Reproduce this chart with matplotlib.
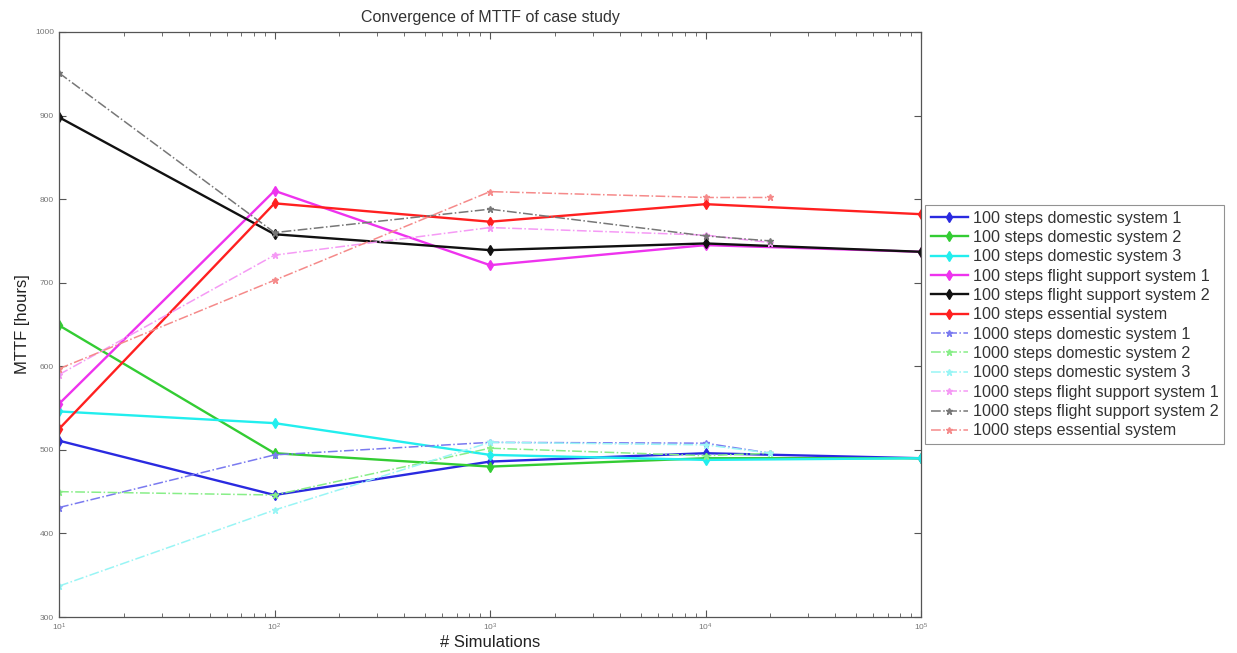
import matplotlib
matplotlib.use("Agg")
import matplotlib.pyplot as plt
from matplotlib.ticker import LogLocator, LogFormatterMathtext, NullFormatter

plt.rcParams['font.family'] = ['Liberation Sans', 'DejaVu Sans']

# Data
x100 = [10, 100, 1000, 10000, 100000]
x1000 = [10, 100, 1000, 10000, 20000]

s100_dom1 = [511, 446, 486, 496, 490]
s100_dom2 = [649, 496, 480, 490, 490]
s100_dom3 = [546, 532, 494, 488, 490]
s100_fs1 = [555, 810, 721, 745, 737]
s100_fs2 = [898, 758, 739, 747, 737]
s100_ess = [525, 795, 773, 794, 782]

s1000_dom1 = [431, 494, 509, 508, 496]
s1000_dom2 = [450, 446, 502, 493, 496]
s1000_dom3 = [337, 428, 509, 506, 496]
s1000_fs1 = [590, 733, 766, 757, 748]
s1000_fs2 = [951, 760, 788, 756, 750]
s1000_ess = [597, 703, 809, 802, 802]

labels = [
    "100 steps domestic system 1",
    "100 steps domestic system 2",
    "100 steps domestic system 3",
    "100 steps flight support system 1",
    "100 steps flight support system 2",
    "100 steps essential system",
    "1000 steps domestic system 1",
    "1000 steps domestic system 2",
    "1000 steps domestic system 3",
    "1000 steps flight support system 1",
    "1000 steps flight support system 2",
    "1000 steps essential system",
]

solid_series = [s100_dom1, s100_dom2, s100_dom3, s100_fs1, s100_fs2, s100_ess]
dash_series = [s1000_dom1, s1000_dom2, s1000_dom3, s1000_fs1, s1000_fs2, s1000_ess]
solid_colors = ['#2a2ae0', '#33cc33', '#22eeee', '#ee33ee', '#111111', '#ff2020']
dash_colors = ['#7a7af0', '#88ee88', '#99f5f5', '#f59af5', '#777777', '#f58a8a']

fig = plt.figure(figsize=(12.37, 6.53), dpi=100)
ax = fig.add_axes([0.0477, 0.0551, 0.6969, 0.8959])

handles = []
for ys, c, lab in zip(solid_series, solid_colors, labels[:6]):
    h, = ax.plot(x100, ys, '-', color=c, lw=1.7, marker='d', ms=5,
                 mfc=c, mec=c, label=lab)
    handles.append(h)
for ys, c, lab in zip(dash_series, dash_colors, labels[6:]):
    h, = ax.plot(x1000, ys, '-.', color=c, lw=1.1, marker='*', ms=5,
                 mfc=c, mec=c, label=lab)
    handles.append(h)

ax.set_xscale('log')
ax.set_xlim(10, 100000)
ax.set_ylim(300, 1000)
ax.set_yticks([300, 400, 500, 600, 700, 800, 900, 1000])
ax.xaxis.set_major_locator(LogLocator(base=10, numticks=10))
ax.xaxis.set_major_formatter(LogFormatterMathtext())
ax.xaxis.set_minor_locator(LogLocator(base=10, subs=range(2, 10), numticks=20))
ax.xaxis.set_minor_formatter(NullFormatter())

ax.tick_params(which='both', direction='in', top=True, right=True,
               labelsize=6, colors='#555555', labelcolor='#777777')
ax.tick_params(which='major', length=5)
ax.tick_params(which='minor', length=3)
for sp in ax.spines.values():
    sp.set_color('#555555')
    sp.set_linewidth(0.9)

ax.set_title("Convergence of MTTF of case study", fontsize=11.5, color='#333333', pad=7)
ax.set_xlabel("# Simulations", fontsize=12, color='#222222', labelpad=1)
ax.set_ylabel("MTTF [hours]", fontsize=12, color='#222222', labelpad=4)

leg = fig.legend(handles=handles, loc='upper left', bbox_to_anchor=(925/1237, 1 - 205/653),
                 fontsize=11.6, frameon=True, fancybox=False, edgecolor='#777777',
                 borderpad=0.35, labelspacing=0.27, handlelength=2.3, handletextpad=0.3,
                 borderaxespad=0.0)
leg.get_frame().set_linewidth(0.8)
for t in leg.get_texts():
    t.set_color('#333333')

fig.savefig("out.png", dpi=100)
